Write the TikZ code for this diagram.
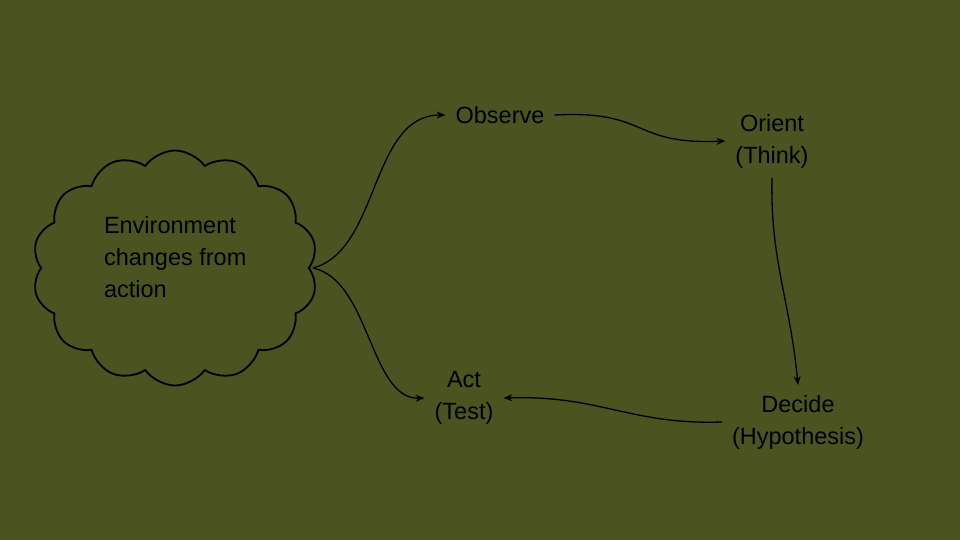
\documentclass[tikz,border=0pt]{standalone}
\usepackage{fontspec}
\setmainfont{Liberation Sans}
\usetikzlibrary{shapes.symbols,arrows.meta}
\definecolor{bg}{HTML}{4B5320}
\begin{document}
\begin{tikzpicture}[x=1pt,y=-1pt,
  lbl/.style={font=\fontsize{23.5}{32}\selectfont,align=center,inner sep=2pt,outer sep=8pt},
  conn/.style={draw=black,line width=1.3pt,-{Stealth[length=9pt,width=7pt]}}]
\fill[bg] (0,0) rectangle (960,540);
\useasboundingbox (0,0) rectangle (960,540);
\node[cloud,draw=black,line width=1.8pt,cloud puffs=14,cloud puff arc=110,aspect=1.2,
  minimum width=285pt,minimum height=235pt,inner sep=0pt] (env) at (175,268) {};
\node[lbl,align=left,anchor=west,outer sep=0pt] (envt) at (102,257) {Environment\\changes from\\action};
\node[lbl] (obs) at (500,115) {Observe};
\node[lbl] (ori) at (772,141) {Orient\\(Think)};
\node[lbl] (dec) at (798,422) {Decide\\(Hypothesis)};
\node[lbl] (act) at (464,398) {Act\\(Test)};
\coordinate (e) at (313,268);
\draw[conn] (e) .. controls (380,250) and (370,115) .. (obs.west);
\draw[conn] (e) .. controls (370,280) and (370,400) .. (act.west);
\draw[conn] (obs.east) .. controls (650,110) and (630,145) .. (ori.west);
\draw[conn] (ori.south) .. controls (770,260) and (790,300) .. (dec.north);
\draw[conn] (dec.west) .. controls (630,425) and (600,395) .. (act.east);
\end{tikzpicture}
\end{document}
